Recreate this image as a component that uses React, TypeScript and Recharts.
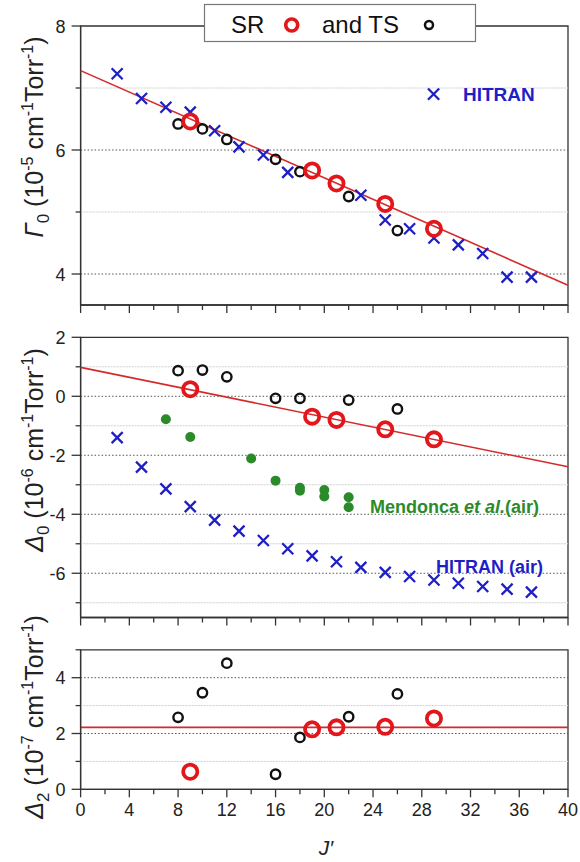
import React from "react";
import {
  ScatterChart,
  Scatter,
  XAxis,
  YAxis,
  ReferenceLine,
  ReferenceArea,
} from "recharts";

const font = "'Liberation Sans', Arial, sans-serif";

// x axis (J')
const xTicks = [0, 2, 4, 6, 8, 10, 12, 14, 16, 18, 20, 22, 24, 26, 28, 30, 32, 34, 36, 38, 40];
const xLabels = [0, 4, 8, 12, 16, 20, 24, 28, 32, 36, 40];

// Gamma0 panel
const gammaSR = [
  { J: 9, v: 6.46 },
  { J: 19, v: 5.67 },
  { J: 21, v: 5.46 },
  { J: 25, v: 5.13 },
  { J: 29, v: 4.73 },
];
const gammaTS = [
  { J: 8, v: 6.42 },
  { J: 10, v: 6.34 },
  { J: 12, v: 6.17 },
  { J: 16, v: 5.85 },
  { J: 18, v: 5.65 },
  { J: 22, v: 5.25 },
  { J: 26, v: 4.7 },
];
const gammaHitran = [
  { J: 3, v: 7.23 },
  { J: 5, v: 6.83 },
  { J: 7, v: 6.69 },
  { J: 9, v: 6.61 },
  { J: 11, v: 6.31 },
  { J: 13, v: 6.05 },
  { J: 15, v: 5.92 },
  { J: 17, v: 5.64 },
  { J: 23, v: 5.27 },
  { J: 25, v: 4.87 },
  { J: 27, v: 4.73 },
  { J: 29, v: 4.58 },
  { J: 31, v: 4.47 },
  { J: 33, v: 4.33 },
  { J: 35, v: 3.95 },
  { J: 37, v: 3.95 },
];
const gammaFit = [
  { J: 0, v: 7.28 },
  { J: 40, v: 3.82 },
];
const gammaTicks = [4, 5, 6, 7, 8];
const gammaLabels = [4, 6, 8];
const gammaGridMajor = [4, 6];
const gammaGridMinor = [5, 7];

// Delta0 panel
const d0SR = [
  { J: 9, v: 0.24 },
  { J: 19, v: -0.69 },
  { J: 21, v: -0.8 },
  { J: 25, v: -1.12 },
  { J: 29, v: -1.46 },
];
const d0TS = [
  { J: 8, v: 0.87 },
  { J: 10, v: 0.89 },
  { J: 12, v: 0.66 },
  { J: 16, v: -0.07 },
  { J: 18, v: -0.07 },
  { J: 22, v: -0.13 },
  { J: 26, v: -0.43 },
];
const d0Mendonca = [
  { J: 7, v: -0.78 },
  { J: 9, v: -1.38 },
  { J: 14, v: -2.11 },
  { J: 16, v: -2.86 },
  { J: 18, v: -3.1 },
  { J: 18, v: -3.2 },
  { J: 20, v: -3.18 },
  { J: 20, v: -3.4 },
  { J: 22, v: -3.42 },
  { J: 22, v: -3.76 },
];
const d0Hitran = [
  { J: 3, v: -1.4 },
  { J: 5, v: -2.4 },
  { J: 7, v: -3.14 },
  { J: 9, v: -3.74 },
  { J: 11, v: -4.2 },
  { J: 13, v: -4.57 },
  { J: 15, v: -4.89 },
  { J: 17, v: -5.17 },
  { J: 19, v: -5.41 },
  { J: 21, v: -5.61 },
  { J: 23, v: -5.8 },
  { J: 25, v: -5.97 },
  { J: 27, v: -6.11 },
  { J: 29, v: -6.23 },
  { J: 31, v: -6.34 },
  { J: 33, v: -6.45 },
  { J: 35, v: -6.54 },
  { J: 37, v: -6.64 },
];
const d0Fit = [
  { J: 0, v: 0.98 },
  { J: 40, v: -2.39 },
];
const d0Ticks = [-7, -6, -5, -4, -3, -2, -1, 0, 1, 2];
const d0Labels = [-6, -4, -2, 0, 2];
const d0GridMajor = [-6, -4, -2, 0];
const d0GridMinor = [-7, -5, -3, -1, 1];

// Delta2 panel
const d2SR = [
  { J: 9, v: 0.63 },
  { J: 19, v: 2.15 },
  { J: 21, v: 2.22 },
  { J: 25, v: 2.24 },
  { J: 29, v: 2.54 },
];
const d2TS = [
  { J: 8, v: 2.58 },
  { J: 10, v: 3.46 },
  { J: 12, v: 4.52 },
  { J: 16, v: 0.54 },
  { J: 18, v: 1.86 },
  { J: 22, v: 2.6 },
  { J: 26, v: 3.42 },
];
const d2Fit = 2.22;
const d2Ticks = [0, 1, 2, 3, 4, 5];
const d2Labels = [0, 2, 4];
const d2GridMajor = [2, 4];
const d2GridMinor = [1, 3];

const RED = "#e3161b";
const BLUE = "#1f1fc6";
const GREEN = "#2b8b2b";
const AXIS = "#333";

const RedRing = (p: any) => (
  <circle cx={p.cx} cy={p.cy} r={7.1} fill="none" stroke={RED} strokeWidth={3.8} />
);
const BlackRing = (p: any) => (
  <circle cx={p.cx} cy={p.cy} r={4.7} fill="none" stroke="#111" strokeWidth={2.4} />
);
const BlueCross = (p: any) => {
  const s = 5.5;
  return (
    <path
      d={`M${p.cx - s},${p.cy - s}L${p.cx + s},${p.cy + s}M${p.cx - s},${p.cy + s}L${p.cx + s},${p.cy - s}`}
      stroke={BLUE}
      strokeWidth={2.3}
      fill="none"
    />
  );
};
const GreenDot = (p: any) => <circle cx={p.cx} cy={p.cy} r={5} fill={GREEN} />;
const NoDot = () => <g />;

function XTick(props: any) {
  const { x, y, payload, showLabels } = props;
  const major = xLabels.includes(payload.value);
  return (
    <g>
      <line x1={x} x2={x} y1={y} y2={y + (major ? 8 : 5)} stroke={AXIS} strokeWidth={1.3} />
      {showLabels && major && (
        <text x={x} y={y + 27} textAnchor="middle" fontSize={18} fill="#222" fontFamily={font}>
          {payload.value}
        </text>
      )}
    </g>
  );
}

function YTick(props: any) {
  const { x, y, payload, labels } = props;
  const major = labels.includes(payload.value);
  return (
    <g>
      <line x1={x - (major ? 9 : 5)} x2={x} y1={y} y2={y} stroke={AXIS} strokeWidth={1.3} />
      {major && (
        <text x={x - 15} y={y + 6.5} textAnchor="end" fontSize={18} fill="#222" fontFamily={font}>
          {payload.value}
        </text>
      )}
    </g>
  );
}

function Panel(props: {
  height: number;
  top: number;
  marginTop: number;
  xHeight: number;
  domain: [number, number];
  ticks: number[];
  labels: number[];
  gridMajor: number[];
  gridMinor: number[];
  showLabels: boolean;
  children: React.ReactNode;
}) {
  const { height, top, marginTop, xHeight, domain, ticks, labels, gridMajor, gridMinor, showLabels } = props;
  return (
    <div style={{ position: "absolute", left: 0, top }}>
      <ScatterChart width={580} height={height} margin={{ top: marginTop, right: 12, bottom: 0, left: 0 }}>
        <XAxis
          type="number"
          dataKey="J"
          domain={[0, 40]}
          ticks={xTicks}
          interval={0}
          height={xHeight}
          tickSize={0}
          tickMargin={0}
          tickLine={false}
          axisLine={{ stroke: AXIS, strokeWidth: 1.3 }}
          tick={(p: any) => <XTick {...p} showLabels={showLabels} />}
        />
        <YAxis
          type="number"
          dataKey="v"
          domain={domain}
          ticks={ticks}
          interval={0}
          width={80.6}
          tickSize={0}
          tickMargin={0}
          tickLine={false}
          allowDataOverflow
          axisLine={{ stroke: AXIS, strokeWidth: 1.3 }}
          tick={(p: any) => <YTick {...p} labels={labels} />}
        />
        {gridMinor.map((g) => (
          <ReferenceLine key={"n" + g} y={g} stroke="#cfcfcf" strokeDasharray="2 1" strokeWidth={1} />
        ))}
        {gridMajor.map((g) => (
          <ReferenceLine key={"m" + g} y={g} stroke="#555" strokeDasharray="1.5 2" strokeWidth={1} />
        ))}
        <ReferenceArea x1={0} x2={40} y1={domain[0]} y2={domain[1]} fill="none" fillOpacity={0} stroke={AXIS} strokeWidth={1.3} />
        {props.children}
      </ScatterChart>
    </div>
  );
}

function YTitle({ sym, sub, exp, cy }: { sym: string; sub: string; exp: string; cy: number }) {
  const x = 43;
  return (
    <text x={x} y={cy} fontSize={25} fill="#222" textAnchor="middle" transform={`rotate(-90 ${x} ${cy})`}>
      <tspan fontStyle="italic">{sym}</tspan>
      <tspan fontSize={17} dy={6}>{sub}</tspan>
      <tspan dy={-6}>{"  (10"}</tspan>
      <tspan fontSize={16} dy={-10}>{exp}</tspan>
      <tspan dy={10}>{" cm"}</tspan>
      <tspan fontSize={16} dy={-10}>-1</tspan>
      <tspan dy={10}>Torr</tspan>
      <tspan fontSize={16} dy={-10}>-1</tspan>
      <tspan dy={10}>)</tspan>
    </text>
  );
}

export default function App() {
  return (
    <div style={{ position: "absolute", left: 0, top: 0, width: 580, height: 862, background: "#fff" }}>
      <Panel
        top={0}
        marginTop={26}
        height={330}
        xHeight={25}
        domain={[3.5, 8]}
        ticks={gammaTicks}
        labels={gammaLabels}
        gridMajor={gammaGridMajor}
        gridMinor={gammaGridMinor}
        showLabels={false}
      >
        <Scatter data={gammaFit} line={{ stroke: "#d42a2a", strokeWidth: 1.6 }} shape={NoDot} isAnimationActive={false} />
        <Scatter data={gammaHitran} shape={BlueCross} isAnimationActive={false} />
        <Scatter data={gammaTS} shape={BlackRing} isAnimationActive={false} />
        <Scatter data={gammaSR} shape={RedRing} isAnimationActive={false} />
      </Panel>
      <Panel
        top={315}
        marginTop={22.3}
        height={325}
        xHeight={22.5}
        domain={[-7.5, 2]}
        ticks={d0Ticks}
        labels={d0Labels}
        gridMajor={d0GridMajor}
        gridMinor={d0GridMinor}
        showLabels={false}
      >
        <Scatter data={d0Fit} line={{ stroke: "#d42a2a", strokeWidth: 1.6 }} shape={NoDot} isAnimationActive={false} />
        <Scatter data={d0Hitran} shape={BlueCross} isAnimationActive={false} />
        <Scatter data={d0Mendonca} shape={GreenDot} isAnimationActive={false} />
        <Scatter data={d0TS} shape={BlackRing} isAnimationActive={false} />
        <Scatter data={d0SR} shape={RedRing} isAnimationActive={false} />
      </Panel>
      <Panel
        top={630}
        marginTop={19.8}
        height={232}
        xHeight={72.7}
        domain={[0, 5]}
        ticks={d2Ticks}
        labels={d2Labels}
        gridMajor={d2GridMajor}
        gridMinor={d2GridMinor}
        showLabels={true}
      >
        <ReferenceLine y={d2Fit} stroke="#d42a2a" strokeWidth={1.8} />
        <Scatter data={d2TS} shape={BlackRing} isAnimationActive={false} />
        <Scatter data={d2SR} shape={RedRing} isAnimationActive={false} />
      </Panel>

      <svg width={580} height={862} style={{ position: "absolute", left: 0, top: 0, pointerEvents: "none" }} fontFamily={font}>
        {/* legend box */}
        <rect x={204.5} y={4.5} width={271} height={37} fill="#fff" stroke="#777" strokeWidth={1.2} />
        <text x={231} y={33} fontSize={24} fill="#111">SR</text>
        <circle cx={291.7} cy={25} r={6} fill="none" stroke={RED} strokeWidth={3.6} />
        <text x={322} y={33} fontSize={24} fill="#111">and TS</text>
        <circle cx={429} cy={25} r={4} fill="none" stroke="#111" strokeWidth={2.5} />

        {/* HITRAN legend in top panel */}
        <path d="M428,88.5L439.2,99.7M428,99.7L439.2,88.5" stroke={BLUE} strokeWidth={2.3} />
        <text x={463} y={101} fontSize={19} fontWeight="bold" fill={BLUE}>HITRAN</text>

        {/* middle panel labels */}
        <text x={370} y={513} fontSize={18} fontWeight="bold" fill={GREEN}>
          Mendonca <tspan fontStyle="italic">et al.</tspan>(air)
        </text>
        <text x={436} y={573} fontSize={18} fontWeight="bold" fill={BLUE}>HITRAN (air)</text>

        {/* y-axis titles */}
        <YTitle sym="Γ" sub="0" exp="-5" cy={137} />
        <YTitle sym="Δ" sub="0" exp="-6" cy={450} />
        <YTitle sym="Δ" sub="2" exp="-7" cy={717} />

        {/* x-axis title */}
        <text x={326} y={855} fontSize={21} fontStyle="italic" textAnchor="middle" fill="#222">J′</text>
      </svg>
    </div>
  );
}
